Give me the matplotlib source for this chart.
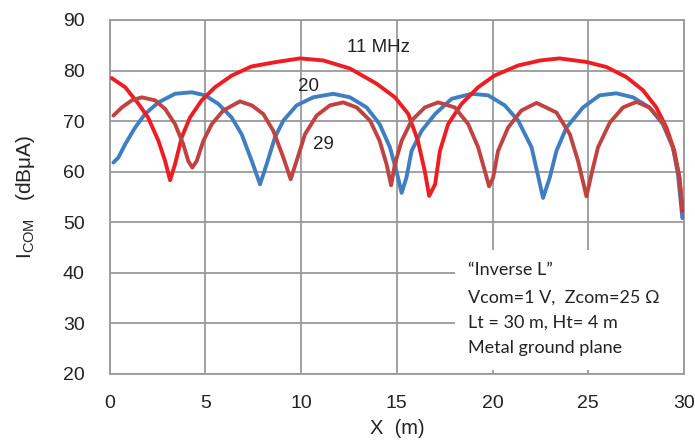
import matplotlib
matplotlib.use("Agg")
import matplotlib.pyplot as plt
from matplotlib.patches import Rectangle

# 11 MHz
x_11 = [0.1, 0.8, 1.5, 2.0, 2.54, 2.89, 3.15, 3.41, 3.76, 4.19, 4.8, 5.5, 6.37, 7.4,
        8.72, 9.94, 11.15, 12.55, 13.94, 14.9, 15.6, 16.1, 16.46, 16.69, 17.0, 17.25,
        17.68, 18.38, 19.25, 20.1, 21.34, 22.5, 23.5, 24.9, 25.95, 27.0, 27.86, 28.56,
        29.09, 29.5, 29.77, 29.92]
y_11 = [78.5, 76.7, 73.4, 70.7, 66.1, 62.1, 58.3, 61.5, 66.8, 70.7, 74.1, 76.7, 79.0, 80.8,
        81.7, 82.4, 82.0, 80.4, 77.4, 74.7, 71.4, 66.1, 60.1, 55.2, 57.5, 64.1,
        69.4, 73.4, 76.7, 79.0, 81.0, 82.0, 82.4, 81.7, 80.7, 78.7, 76.1, 72.7,
        68.7, 64.1, 58.8, 52.2]

# 20 MHz
x_20 = [0.19, 0.45, 0.8, 1.32, 1.84, 2.54, 3.41, 4.28, 4.98, 5.67, 6.37, 6.89, 7.42, 7.85,
        8.2, 8.63, 9.07, 9.76, 10.63, 11.68, 12.55, 13.42, 14.1, 14.64, 14.98, 15.25,
        15.5, 15.77, 16.3, 17.0, 17.86, 18.9, 19.77, 20.64, 21.34, 22.04, 22.3, 22.64,
        22.99, 23.34, 23.86, 24.73, 25.6, 26.47, 27.34, 28.2, 28.9, 29.43, 29.69, 29.92]
y_20 = [61.8, 62.8, 65.4, 68.7, 71.4, 73.7, 75.4, 75.7, 75.1, 73.4, 70.7, 67.4, 62.1, 57.5,
        61.5, 66.8, 70.1, 73.1, 74.7, 75.4, 74.7, 72.7, 69.4, 64.8, 60.1, 55.8,
        58.8, 64.1, 68.1, 71.4, 74.4, 75.4, 75.1, 73.1, 70.1, 64.8, 60.5, 54.8,
        58.8, 64.1, 68.7, 72.7, 75.1, 75.5, 74.7, 72.7, 69.4, 64.8, 59.5, 50.8]

# 29 MHz
x_29 = [0.19, 0.63, 1.15, 1.67, 2.37, 2.89, 3.41, 3.84, 4.1, 4.31, 4.54, 4.89, 5.33, 5.93,
        6.8, 7.42, 8.02, 8.54, 9.07, 9.45, 9.76, 10.2, 10.81, 11.5, 12.2, 12.9, 13.6,
        14.1, 14.46, 14.7, 14.9, 15.25, 15.77, 16.46, 17.16, 18.03, 18.73, 19.25, 19.6,
        19.82, 20.03, 20.29, 20.81, 21.51, 22.3, 23.34, 24.04, 24.47, 24.91, 25.17,
        25.51, 26.13, 26.82, 27.52, 28.2, 28.9, 29.43, 29.77, 29.92]
y_29 = [71.1, 72.7, 74.1, 74.7, 74.1, 72.4, 69.4, 65.4, 62.1, 60.8, 62.1, 66.1, 69.4, 72.1,
        73.9, 73.1, 71.4, 68.1, 62.8, 58.5, 62.1, 67.4, 71.1, 73.1, 73.7, 72.7, 70.1,
        66.1, 61.5, 57.3, 61.5, 66.1, 70.1, 72.7, 73.7, 72.7, 69.4, 64.8, 60.1,
        57.1, 58.8, 64.1, 68.7, 72.1, 73.6, 71.7, 67.4, 62.1, 55.1, 59.5,
        64.8, 69.7, 72.7, 73.8, 72.7, 69.7, 64.8, 58.8, 52.8]

note_lines = ["\u201cInverse L\u201d", "Vcom=1 V,  Zcom=25 \u03a9",
              "Lt = 30 m, Ht= 4 m", "Metal ground plane"]

plt.rcParams["font.family"] = ["Liberation Sans", "DejaVu Sans"]
grid_col = "#9a9a9a"
txt_col = "#222222"

fig = plt.figure(figsize=(6.95, 4.44), dpi=100)
ax = fig.add_axes((0.158, 0.158, 0.826, 0.797))

line_kw = dict(lw=2.8, solid_joinstyle="round", solid_capstyle="round")
ax.plot(x_20, y_20, color="#3f7ec1", zorder=3, **line_kw)
ax.plot(x_11, y_11, color="#ee1d23", zorder=4, **line_kw)
ax.plot(x_29, y_29, color="#bf4441", zorder=5, **line_kw)

ax.set_xlim(0, 30)
ax.set_ylim(20, 90)
ax.set_xticks(range(0, 31, 5))
ax.set_yticks(range(20, 91, 10))
ax.grid(True, color=grid_col, lw=1.3)
ax.set_axisbelow(True)
for s in ax.spines.values():
    s.set_color(grid_col)
    s.set_linewidth(1.3)
ax.tick_params(length=0, labelsize=14, colors=txt_col)
ax.tick_params(axis="y", pad=18)
ax.tick_params(axis="x", pad=15)

ax.set_xlabel("X  (m)", fontsize=14.5, color=txt_col, labelpad=5)
ax.set_ylabel(r"I$_{\mathregular{COM}}$   (dBμA)", fontsize=15, color=txt_col, labelpad=19)

ax.text(12.39, 84.6, "11 MHz", fontsize=13.5, va="center", color=txt_col, zorder=6)
ax.text(9.83, 76.9, "20", fontsize=13.5, va="center", color=txt_col, zorder=6)
ax.text(10.63, 65.3, "29", fontsize=13.5, va="center", color=txt_col, zorder=6)

# white box behind the note
ax.add_patch(Rectangle((18.03, 20.8), 11.9, 23.7, facecolor="white",
                       edgecolor="none", zorder=2))
for txt, yy in zip(note_lines, [40.6, 35.0, 30.1, 25.1]):
    ax.text(18.7, yy, txt, fontsize=13, family=["Lato", "DejaVu Sans"],
            va="center", color=txt_col, zorder=6)

fig.savefig("out.png", dpi=100)
